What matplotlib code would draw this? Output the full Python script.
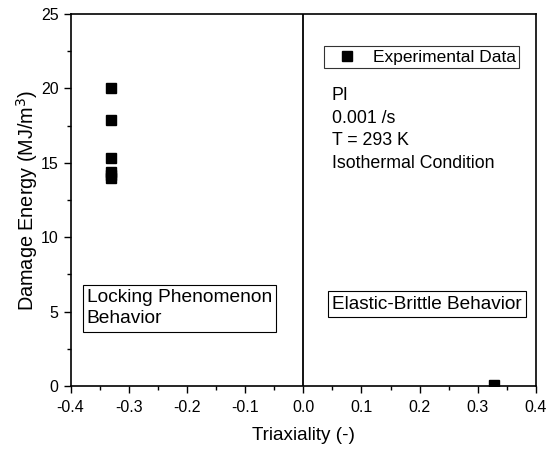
import matplotlib
matplotlib.use("Agg")
import matplotlib.pyplot as plt
from matplotlib.ticker import MultipleLocator

plt.rcParams['font.family'] = ['Liberation Sans', 'DejaVu Sans']

triaxiality = [-0.33, -0.33, -0.33, -0.33, -0.33, -0.33, 0.328]
damage_energy = [20.0, 17.9, 15.3, 14.4, 14.2, 13.95, 0.05]

fig = plt.figure(figsize=(5.55, 4.5), dpi=100)
ax = fig.add_axes([70.5/555, 1-386/450, (536-70.5)/555, (386-14)/450])

ax.plot(triaxiality, damage_energy, 's', color='black', markersize=6.5, label='Experimental Data', clip_on=True, zorder=1.5)
ax.axvline(0.0, color='black', linewidth=1.3)

ax.set_xlim(-0.4, 0.4)
ax.set_ylim(0, 25)
ax.xaxis.set_minor_locator(MultipleLocator(0.05))
ax.yaxis.set_major_locator(MultipleLocator(5))
ax.yaxis.set_minor_locator(MultipleLocator(2.5))
ax.set_xticks([-0.4, -0.3, -0.2, -0.1, 0.0, 0.1, 0.2, 0.3, 0.4])
ax.set_xticklabels(['-0.4', '-0.3', '-0.2', '-0.1', '0.0', '0.1', '0.2', '0.3', '0.4'])
ax.tick_params(which='major', direction='out', length=5, width=1, labelsize=11.5, top=False, right=False)
ax.tick_params(axis='x', which='major', pad=5)
ax.tick_params(which='minor', direction='out', length=3, width=1, top=False, right=False)
for s in ax.spines.values():
    s.set_linewidth(1.2)

ax.set_xlabel('Triaxiality (-)', fontsize=13.6, labelpad=9)
ax.set_ylabel('Damage Energy (MJ/m$^3$)', fontsize=14.3, labelpad=1)

leg = ax.legend(loc='upper right', bbox_to_anchor=(519/555, 1-46/450), bbox_transform=fig.transFigure,
                fontsize=12.5, frameon=True, fancybox=False, edgecolor='black', borderpad=0.2,
                handletextpad=0.32, handlelength=2.25, borderaxespad=0)
leg.get_frame().set_linewidth(0.8)

ax.text(0.0488, 20.08, 'PI\n0.001 /s\nT = 293 K\nIsothermal Condition', fontsize=12.8, va='top', ha='left',
        linespacing=1.42)

bbox = dict(boxstyle='square,pad=0.22', facecolor='white', edgecolor='black', linewidth=0.8)
ax.text(-0.372, 5.24, 'Locking Phenomenon\nBehavior', fontsize=13.8, va='center', ha='left', bbox=bbox, linespacing=1.35)
ax.text(0.0497, 5.51, 'Elastic-Brittle Behavior', fontsize=13.7, va='center', ha='left', bbox=bbox)

fig.savefig('out.png', dpi=100)
